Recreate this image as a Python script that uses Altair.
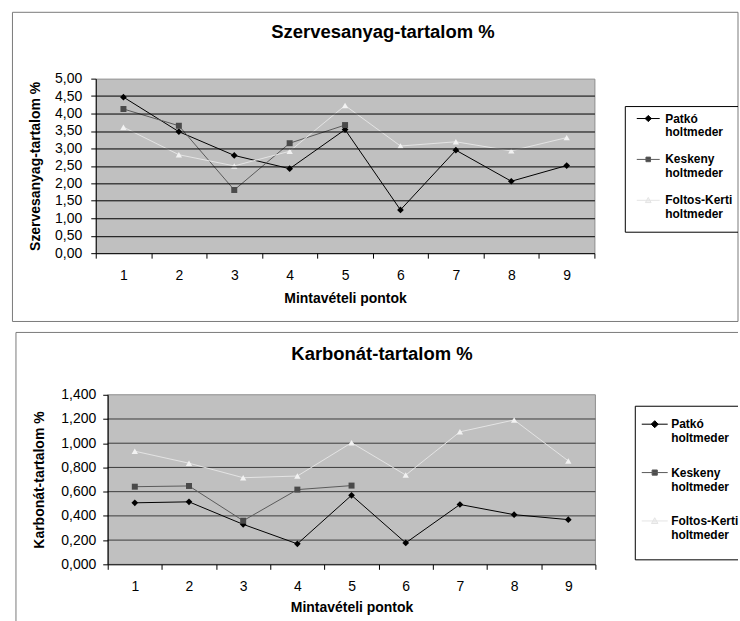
import altair as alt
import pandas as pd

# Sampling points and series
pontok = [1, 2, 3, 4, 5, 6, 7, 8, 9]
sorozatok = ["Patkó holtmeder", "Keskeny holtmeder", "Foltos-Kerti holtmeder"]

# Organic matter content (%)
szerves_patko = [4.47, 3.48, 2.80, 2.42, 3.54, 1.24, 2.95, 2.06, 2.51]
szerves_keskeny = [4.13, 3.65, 1.81, 3.15, 3.67]
szerves_foltos = [3.61, 2.82, 2.50, 2.92, 4.23, 3.07, 3.19, 2.93, 3.31]

# Carbonate content (%)
karbonat_patko = [0.508, 0.516, 0.330, 0.169, 0.570, 0.177, 0.494, 0.410, 0.369]
karbonat_keskeny = [0.641, 0.647, 0.360, 0.617, 0.650]
karbonat_foltos = [0.934, 0.835, 0.715, 0.729, 1.004, 0.737, 1.094, 1.192, 0.854]

# Axis tick values
szerves_tickek = [0.0, 0.5, 1.0, 1.5, 2.0, 2.5, 3.0, 3.5, 4.0, 4.5, 5.0]
karbonat_tickek = [0.0, 0.2, 0.4, 0.6, 0.8, 1.0, 1.2, 1.4]
karbonat_racs = [0.2, 0.4, 0.6, 0.8, 1.0, 1.2]

# Styles
FONT = "Liberation Sans"
vonal_szinek = ["#000000", "#5a5a5a", "#e4e4e4"]
jelolo_szinek = ["#000000", "#4a4a4a", "#f2f2f2"]
jelolok = ["diamond", "square", "triangle-up"]
jelolo_meretek = [45, 36, 40]
jelmagyarazat_jelek = [
    "M-1,0H1M0,-0.27L0.27,0L0,0.27L-0.27,0Z",
    "M-1,0H1M-0.2,-0.2H0.2V0.2H-0.2Z",
    "M-1,0H1M0,-0.25L0.25,0.2H-0.25Z",
]


def long_table(series_values):
    rows = []
    for name, vals in zip(sorozatok, series_values):
        for p, v in zip(pontok, vals):
            rows.append({"pont": p, "sorozat": name, "ertek": v})
    return pd.DataFrame(rows)


def one_row(**kw):
    return alt.Data(values=[kw if kw else {"k": 1}])


def rule_layers(segments, color):
    out = []
    for (x1, x2, y1, y2) in segments:
        enc = dict(x=alt.value(x1), y=alt.value(y1))
        if x1 != x2:
            enc["x2"] = alt.value(x2)
        if y1 != y2:
            enc["y2"] = alt.value(y2)
        out.append(alt.Chart(one_row()).mark_rule(color=color, strokeWidth=1).encode(**enc))
    return out


def panel(df, cim, y_cim, y_max, tickek, tizedes, w, h, x_range, y_offset,
          grid_in_axis, cim_pos, keret, legend_opts, y_title_x, x_title_y,
          label_pad, doboz, racs=None, hatter=None):
    scale_kw = dict(type="band", paddingInner=0, paddingOuter=0)
    if x_range is not None:
        scale_kw["range"] = x_range
    x_axis = alt.Axis(
        title="Mintavételi pontok", labelAngle=0, tickBand="extent", tickSize=5,
        tickColor="black", domainColor="black", labelPadding=10,
        labelFontSize=14, titleFontSize=14, titleFontWeight="bold",
        titleY=x_title_y, titleBaseline="middle", grid=False, zindex=1,
    )
    X = alt.X("pont:O", scale=alt.Scale(**scale_kw), axis=x_axis, bandPosition=0.5)

    y_axis_kw = dict(
        values=tickek,
        labelExpr=f"replace(format(datum.value, '.{tizedes}f'), '.', ',')",
        tickSize=5, tickColor="black", domainColor="black", labelPadding=label_pad,
        labelFontSize=14, title=y_cim, titleFontSize=14, titleFontWeight="bold",
        titleAngle=270, titleAlign="center", titleBaseline="middle",
        titleX=y_title_x, titleY=h / 2, zindex=1,
    )
    if y_offset:
        y_axis_kw["offset"] = y_offset
    if grid_in_axis:
        y_axis_kw.update(
            grid=True, gridColor="#000000", gridWidth=1,
            gridOpacity={"condition": {"test": "datum.value <= 0 || datum.value >= %s" % y_max,
                                       "value": 0}, "value": 1},
        )
    else:
        y_axis_kw["grid"] = False
    Y = alt.Y("ertek:Q", scale=alt.Scale(domain=[0, y_max], nice=False),
              axis=alt.Axis(**y_axis_kw))

    layers = []
    if hatter is not None:
        layers.append(
            alt.Chart(one_row()).mark_rect(fill="#c0c0c0", stroke="#8c8c8c", strokeWidth=1)
            .encode(x=alt.value(hatter[0]), x2=alt.value(hatter[1]),
                    y=alt.value(0), y2=alt.value(h))
        )
    if racs is not None:
        layers.append(
            alt.Chart(pd.DataFrame({"ertek": racs})).mark_rule(color="#3c3c3c", strokeWidth=1)
            .encode(y=Y, x=alt.value(hatter[0]), x2=alt.value(hatter[1]))
        )

    for name, lc, mc, shp, sz in zip(sorozatok, vonal_szinek, jelolo_szinek, jelolok, jelolo_meretek):
        base = alt.Chart(df).transform_filter(alt.datum.sorozat == name)
        layers.append(base.mark_line(color=lc, strokeWidth=1).encode(x=X, y=Y))
        layers.append(base.mark_point(shape=shp, size=sz, filled=True, color=mc, opacity=1)
                      .encode(x=X, y=Y))

    leg = alt.Legend(**legend_opts)
    layers.append(
        alt.Chart(df).transform_filter("false")
        .mark_point(filled=True, opacity=1, strokeWidth=1)
        .encode(
            x=X, y=Y,
            color=alt.Color("sorozat:N", scale=alt.Scale(domain=sorozatok, range=jelolo_szinek), legend=leg),
            stroke=alt.Stroke("sorozat:N", scale=alt.Scale(domain=sorozatok, range=vonal_szinek), legend=leg),
            shape=alt.Shape("sorozat:N", scale=alt.Scale(domain=sorozatok, range=jelmagyarazat_jelek), legend=leg),
        )
    )

    # chart title
    layers.append(
        alt.Chart(one_row(t=cim)).mark_text(font=FONT, fontSize=18.5, fontWeight="bold",
                                              align="center", baseline="middle", color="black")
        .encode(text="t:N", x=alt.value(cim_pos[0]), y=alt.value(cim_pos[1]))
    )

    # outer frame and legend box
    layers += rule_layers(keret, "#7a7a7a")
    layers += rule_layers(doboz, "#000000")

    if hatter is not None:
        view = alt.ViewBackground(fill="transparent", stroke="transparent")
    else:
        view = alt.ViewBackground(fill="#c0c0c0", stroke="#8c8c8c", strokeWidth=1)
    return alt.layer(*layers).properties(width=w, height=h, view=view)


legend_common = dict(
    orient="none", title=None, direction="vertical", padding=0,
    labelFont=FONT, labelFontSize=12, labelFontWeight="bold", labelColor="black",
    labelExpr="split(datum.label, ' ')", labelLimit=300,
    symbolStrokeWidth=1, symbolOpacity=1,
)

felso = panel(
    long_table([szerves_patko, szerves_keskeny, szerves_foltos]),
    "Szervesanyag-tartalom %", "Szervesanyag-tartalom %", 5.0, szerves_tickek, 2,
    500, 175, None, 0, True, (288, -47),
    [(-83.5, 644, -66.5, -66.5), (-83.5, 644, 243.5, 243.5),
     (-83.5, -83.5, -66.5, 243.5), (644, 644, -66.5, 243.5)],
    dict(legend_common, legendX=542, legendY=28, rowPadding=9,
         symbolSize=529, labelOffset=5),
    -60, 45, 9,
    doboz=[(531, 644, 28, 28), (531, 644, 154, 154), (531, 531, 28, 154)],
)

also = panel(
    long_table([karbonat_patko, karbonat_keskeny, karbonat_foltos]),
    "Karbonát-tartalom %", "Karbonát-tartalom %", 1.4, karbonat_tickek, 3,
    501, 170, [12, 501], -12, False, (287, -40.5),
    [(-80, 644, -62.5, -62.5), (-80, -80, -62.5, 228)],
    dict(legend_common, legendX=547, legendY=16, rowPadding=14.5,
         symbolSize=676, labelOffset=3),
    -68, 43.5, 7,
    doboz=[(541, 644, 11.5, 11.5), (541, 644, 165.5, 165.5), (541, 541, 11.5, 165.5)],
    racs=karbonat_racs, hatter=(12, 501),
)

chart = (
    alt.vconcat(felso, also, spacing=8)
    .resolve_scale(color="independent", stroke="independent", shape="independent")
    .resolve_legend(color="independent", stroke="independent", shape="independent")
    .properties(padding={"left": 11, "top": 10, "right": 0, "bottom": 0}, background="white")
    .configure_axis(labelFont=FONT, titleFont=FONT, labelColor="black", titleColor="black")
    .configure_legend(labelFont=FONT)
)

chart.save("out.html", embed_options={"renderer": "svg", "actions": False})
